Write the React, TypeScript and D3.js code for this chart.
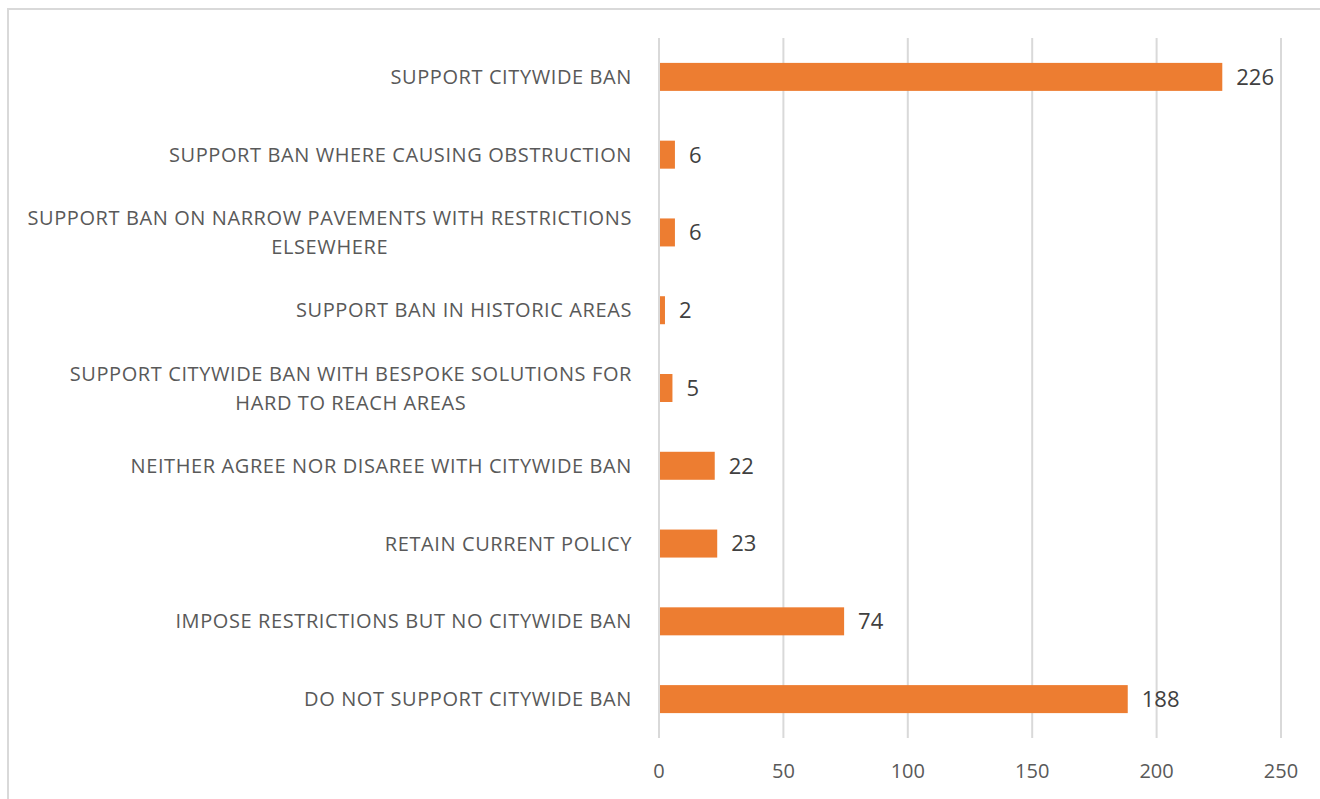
import React, { useEffect, useRef } from "react";
import * as d3 from "d3";

const categories: string[][] = [
  ["SUPPORT CITYWIDE BAN"],
  ["SUPPORT BAN WHERE CAUSING OBSTRUCTION"],
  ["SUPPORT BAN ON NARROW PAVEMENTS WITH RESTRICTIONS", "ELSEWHERE"],
  ["SUPPORT BAN IN HISTORIC AREAS"],
  ["SUPPORT CITYWIDE BAN WITH BESPOKE SOLUTIONS FOR", "HARD TO REACH AREAS"],
  ["NEITHER AGREE NOR DISAREE WITH CITYWIDE BAN"],
  ["RETAIN CURRENT POLICY"],
  ["IMPOSE RESTRICTIONS BUT NO CITYWIDE BAN"],
  ["DO NOT SUPPORT CITYWIDE BAN"],
];
const values: number[] = [226, 6, 6, 2, 5, 22, 23, 74, 188];
const xTicks: number[] = [0, 50, 100, 150, 200, 250];

const W = 1320;
const H = 799;
const FONT = "'Open Sans', sans-serif";

export default function App() {
  const ref = useRef<SVGSVGElement>(null);

  useEffect(() => {
    const svg = d3.select(ref.current);
    svg.selectAll("*").remove();

    const left = 659, right = 1281, top = 38, bottom = 738;
    const x = d3.scaleLinear().domain([0, 250]).range([left, right]);
    const ids = categories.map((_, i) => String(i));
    const y = d3.scaleBand<string>().domain(ids).range([top, bottom]).paddingInner(0.64).paddingOuter(0.32);

    svg.append("rect").attr("x", 8).attr("y", 9).attr("width", W + 20).attr("height", H + 20)
      .attr("fill", "#fff").attr("stroke", "#d9d9d9").attr("stroke-width", 2);

    svg.append("g").selectAll("line").data(xTicks).join("line")
      .attr("x1", d => x(d)).attr("x2", d => x(d)).attr("y1", top).attr("y2", bottom)
      .attr("stroke", "#d9d9d9").attr("stroke-width", 2);

    svg.append("g").selectAll("text").data(xTicks).join("text")
      .attr("x", d => x(d)).attr("y", 778).attr("text-anchor", "middle")
      .attr("font-family", FONT).attr("font-size", 20).attr("fill", "#595959").text(d => d);

    svg.append("g").selectAll("rect").data(values).join("rect")
      .attr("x", x(0) + 1).attr("y", (_, i) => y(String(i))!)
      .attr("width", d => x(d) - x(0)).attr("height", y.bandwidth())
      .attr("fill", "#ED7D31");

    svg.append("g").selectAll("text").data(values).join("text")
      .attr("x", d => x(d) + 15).attr("y", (_, i) => y(String(i))! + y.bandwidth() / 2)
      .attr("dy", "0.36em")
      .attr("font-family", FONT).attr("font-size", 22).attr("fill", "#404040").text(d => d);

    const labelRight = 632;
    const lineH = 29;
    const lg = svg.append("g");
    categories.forEach((lines, i) => {
      const cy = y(String(i))! + y.bandwidth() / 2;
      const g = lg.append("g");
      const texts = lines.map((ln, j) =>
        g.append("text")
          .attr("y", cy + (j - (lines.length - 1) / 2) * lineH)
          .attr("dy", "0.35em")
          .attr("font-family", FONT).attr("font-size", 20).attr("letter-spacing", 0.6)
          .attr("fill", "#595959")
          .attr("text-anchor", "middle").text(ln)
      );
      const maxW = d3.max(texts, t => (t.node() as SVGTextElement).getComputedTextLength()) || 0;
      texts.forEach(t => t.attr("x", labelRight - maxW / 2));
    });
  }, []);

  return (
    <svg ref={ref} width={W} height={H}
      style={{ position: "absolute", left: 0, top: 0, background: "#fff" }} />
  );
}
